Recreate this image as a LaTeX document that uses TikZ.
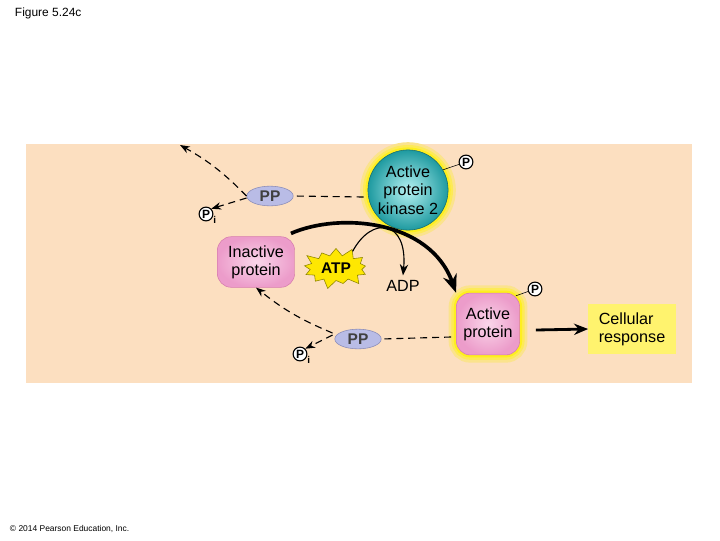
\documentclass[tikz,border=0pt]{standalone}
\usepackage{fontspec}
\setmainfont{Liberation Sans}
\usepackage{xcolor}
\usetikzlibrary{shapes.geometric}
\usetikzlibrary{shapes.symbols}
\usetikzlibrary{arrows.meta}
\usetikzlibrary{positioning}
\definecolor{peach}{HTML}{FCDFC0}
\definecolor{lav}{HTML}{B9BCE6}
\definecolor{lavline}{HTML}{8A8CB8}
\definecolor{pinkin}{HTML}{FAD6EA}
\definecolor{pinkout}{HTML}{EC9CCA}
\definecolor{pinkline}{HTML}{D77DAE}
\definecolor{tealout}{HTML}{1E9AA0}
\definecolor{tealin}{HTML}{B6F2F2}
\definecolor{resp}{HTML}{FFF36E}
\begin{document}
\begin{tikzpicture}[x=0.025cm,y=-0.025cm,
    font=\fontsize{11.5}{13}\selectfont,
    pp/.style={ellipse,draw=lavline,fill=lav,minimum width=33pt,minimum height=14pt,inner sep=0pt,font=\fontsize{11}{12}\selectfont\bfseries,text=black!75},
    prot/.style={rectangle,rounded corners=10pt,draw=pinkline,inner color=pinkin,outer color=pinkout,align=center,inner sep=1pt},
    phos/.style={circle,draw,thick,fill=white,inner sep=0.6pt,font=\fontsize{8.5}{9}\selectfont\bfseries},
    glow/.style={preaction={draw=yellow!25!peach,line width=11pt},preaction={draw=yellow!55!peach,line width=7pt},preaction={draw=yellow!85!peach,line width=3.5pt}},
    dashline/.style={thick,dash pattern=on 5pt off 3.5pt}]
  \useasboundingbox (0,0) rectangle (720,540);
  \fill[peach] (26,144) rectangle (692,383);
  \node[anchor=north west,font=\fontsize{8.5}{9}\selectfont] (fig) at (10,3) {Figure 5.24c};
  \node[anchor=south west,font=\fontsize{6}{7}\selectfont] (copy) at (5,538) {\textcopyright\ 2014 Pearson Education, Inc.};

  % kinase
  \node[circle,glow,draw=tealout!70!black,inner color=tealin,outer color=tealout,minimum size=57pt,align=center,inner sep=0pt] (kin) at (408,190) {Active\\protein\\kinase 2};
  \node[phos] (kp) at (466,162) {P};
  \draw (kin.30) -- (kp);

  % proteins
  \node[prot,minimum width=55pt,minimum height=36pt] (inact) at (256,262) {Inactive\\protein};
  \node[prot,glow,minimum width=45pt,minimum height=44pt] (act) at (488,324) {Active\\protein};
  \node[phos] (ap) at (535,289) {P};
  \draw (act.north east) ++(-4,3) -- (ap);
  \node[fill=resp,minimum width=62pt,minimum height=36pt,align=left] (resp) at (632,329) {Cellular\\response};
  \draw[-{Stealth[length=10pt,width=8pt]},line width=2pt] (act.east) ++(16,6) -- (resp.west);

  % ATP
  \node[starburst,starburst points=13,starburst point height=7pt,draw=olive,fill=yellow!90!orange,inner sep=2.5pt,font=\fontsize{11}{12}\selectfont\bfseries] (atp) at (336,268) {ATP};
  \node (adp) at (403,286) {ADP};
  \draw[-{Stealth[length=8pt,width=6pt]},thick] (atp.north east) .. controls (372,215) and (408,220) .. (adp.north);
  \draw[-{Stealth[length=13pt,width=10pt]},line width=2.6pt] (inact.north east) ++(-4,-3) .. controls (340,212) and (430,220) .. (act.north west);

  % phosphatases
  \node[pp] (pp1) at (270,196) {PP};
  \node[pp] (pp2) at (358,339) {PP};
  \node[phos,label={[inner sep=0pt,font=\fontsize{7}{8}\selectfont\bfseries]-20:i}] (pi1) at (206,214) {P};
  \node[phos,label={[inner sep=0pt,font=\fontsize{7}{8}\selectfont\bfseries]-20:i}] (pi2) at (300,354) {P};
  \coordinate (out1) at (180,145);
  \draw[dashline] (kin.west) ++(-4,7) -- (pp1.east);
  \draw[dashline] (act.west) ++(-5,13) -- (pp2.east);
  \draw[dashline,-{Stealth[length=7pt]}] (pp1.west) to[bend right=8] (out1);
  \draw[dashline,-{Stealth[length=7pt]}] (pp1.west) ++(0,2) -- (pi1.north east);
  \draw[dashline,-{Stealth[length=7pt]}] (pp2.west) ++(-2,-6) to[bend left=8] (inact.south);
  \draw[dashline,-{Stealth[length=7pt]}] (pp2.west) ++(-2,-4) -- (pi2.north east);
\end{tikzpicture}
\end{document}
